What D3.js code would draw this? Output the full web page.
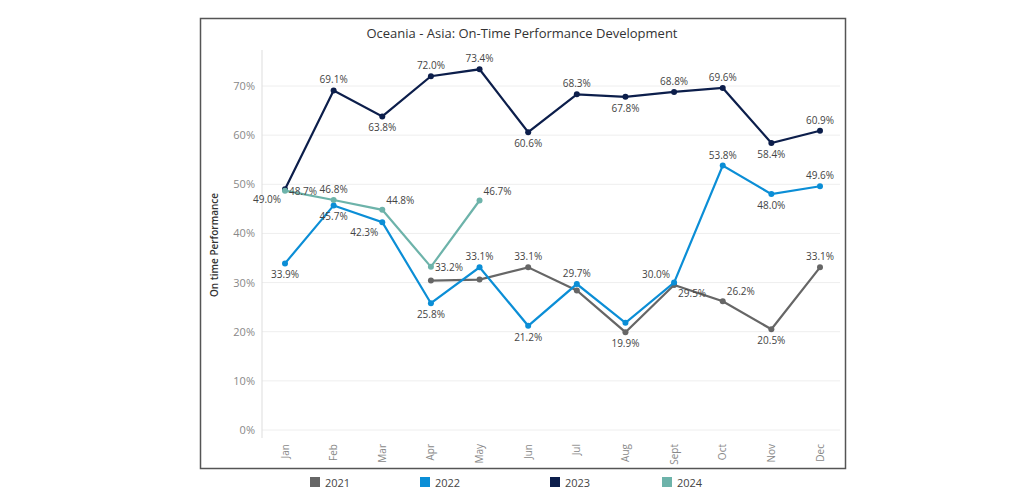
<!DOCTYPE html><html><head><meta charset="utf-8">
<script src="https://cdn.jsdelivr.net/npm/d3@7"></script>
<style>body{margin:0;background:#fff;font-family:"Open Sans",Arial,sans-serif}</style></head><body>
<svg id="c" width="1017" height="500"></svg>
<script>
const months=["Jan","Feb","Mar","Apr","May","Jun","Jul","Aug","Sept","Oct","Nov","Dec"];
const years=["2021","2022","2023","2024"];
const v2021=[null,null,null,30.4,30.6,33.1,28.4,19.9,29.5,26.2,20.5,33.1];
const v2022=[33.9,45.7,42.3,25.8,33.1,21.2,29.7,21.8,30.0,53.8,48.0,49.6];
const v2023=[49.0,69.1,63.8,72.0,73.4,60.6,68.3,67.8,68.8,69.6,58.4,60.9];
const v2024=[48.7,46.8,44.8,33.2,46.7,null,null,null,null,null,null,null];
const yTicks=[0,10,20,30,40,50,60,70];
// label placement codes: a=above, b=below, n=none, r=right, ar=above-right, bl=below-left, al=above-left, br=below-right
const lab2021=["n","n","n","n","n","a","n","b","br","ar","b","a"];
const lab2022=["b","b","bl","b","a","b","a","n","al","a","b","a"];
const lab2023=["bl","a","b","a","a","b","a","b","a","a","b","a"];
const lab2024=["r","a","ar","r","ar","n","n","n","n","n","n","n"];
const colors=["#666666","#0b8ed6","#0c1e4b","#6db3aa"];

const svg=d3.select("#c");
svg.append("rect").attr("x",200.5).attr("y",18.5).attr("width",645).attr("height",450).attr("fill","none").attr("stroke","#555").attr("stroke-width",1.5);
svg.append("text").attr("x",522).attr("y",38).attr("text-anchor","middle").attr("font-size",13).attr("fill","#333").text("Oceania - Asia: On-Time Performance Development");
const x=d3.scalePoint().domain(months).range([285,820]);
const y=d3.scaleLinear().domain([0,70]).range([430,86]);
const g=svg.append("g");
yTicks.forEach(t=>{g.append("line").attr("x1",262).attr("x2",840).attr("y1",y(t)).attr("y2",y(t)).attr("stroke","#eee");});
g.append("line").attr("x1",262).attr("x2",262).attr("y1",50).attr("y2",438).attr("stroke","#ddd");
const ya=svg.append("g").attr("transform","translate(258,0)").call(d3.axisLeft(y).tickValues(yTicks).tickFormat(d=>d+"%").tickSize(0));
ya.select(".domain").remove();ya.selectAll("text").attr("font-size",11).attr("fill","#888").attr("font-family","Open Sans");
const xa=svg.append("g").attr("transform","translate(0,438)").call(d3.axisBottom(x).tickSize(0));
xa.select(".domain").remove();
xa.selectAll("text").attr("font-size",10).attr("fill","#888").attr("font-family","Open Sans").attr("text-anchor","end").attr("transform","rotate(-90)").attr("dx","-2").attr("dy","-0.1em").attr("x",0).attr("y",0).each(function(){});
xa.selectAll(".tick text").attr("transform","rotate(-90)").attr("x",-4).attr("y",4);
svg.append("text").attr("transform","translate(218,245) rotate(-90)").attr("text-anchor","middle").attr("font-size",10).attr("font-weight","600").attr("fill","#333").text("On time Performance");

const series=[v2021,v2022,v2023,v2024], labs=[lab2021,lab2022,lab2023,lab2024];
const off={a:[0,-7,"middle"],b:[0,15,"middle"],r:[4,4,"start"],ar:[4,-6,"start"],bl:[-4,14,"end"],al:[-4,-5,"end"],br:[4,12,"start"]};
series.forEach((s,i)=>{
  const pts=s.map((v,j)=>({m:months[j],v,l:labs[i][j]})).filter(d=>d.v!=null);
  svg.append("path").datum(pts).attr("fill","none").attr("stroke",colors[i]).attr("stroke-width",2.2)
    .attr("d",d3.line().x(d=>x(d.m)).y(d=>y(d.v)));
  svg.selectAll(null).data(pts).enter().append("circle").attr("cx",d=>x(d.m)).attr("cy",d=>y(d.v)).attr("r",3).attr("fill",colors[i]);
  svg.selectAll(null).data(pts.filter(d=>d.l!="n")).enter().append("text")
    .attr("x",d=>x(d.m)+off[d.l][0]).attr("y",d=>y(d.v)+off[d.l][1]).attr("text-anchor",d=>off[d.l][2])
    .attr("font-size",10).attr("fill","#444").text(d=>d.v.toFixed(1)+"%");
});
const lx=[310,420,550,662];
years.forEach((yr,i)=>{
  svg.append("rect").attr("x",lx[i]).attr("y",477).attr("width",10).attr("height",10).attr("fill",colors[i]);
  svg.append("text").attr("x",lx[i]+15).attr("y",487).attr("font-size",11).attr("fill","#444").text(yr);
});
</script></body></html>
